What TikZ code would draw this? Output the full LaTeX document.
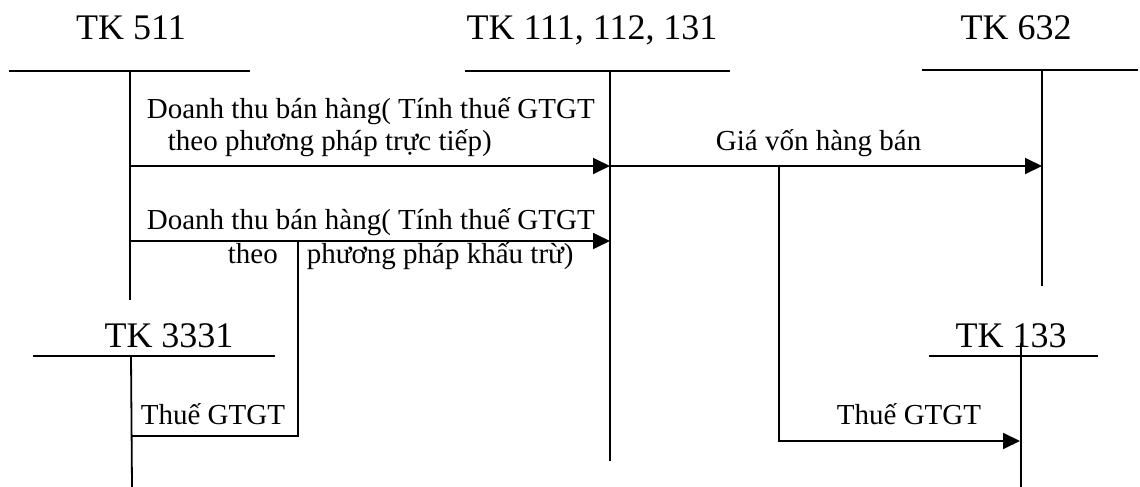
\documentclass[tikz,border=0pt]{standalone}
\usepackage{fontspec}
\setmainfont{Liberation Serif}
\usetikzlibrary{arrows.meta}
\begin{document}
\begin{tikzpicture}[x=1pt,y=-1pt, line width=1.8pt,
  title/.style={font=\fontsize{36}{40}\selectfont, anchor=base, inner sep=0pt},
  lbl/.style={font=\fontsize{29}{32}\selectfont, anchor=base west, inner sep=0pt},
  arr/.style={-{Triangle[length=17pt,width=16pt]}}]
\useasboundingbox (0,0) rectangle (1140,487);
% titles
\node[title] (t511) at (131,40) {TK 511};
\node[title] (t111) at (592,40) {TK 111, 112, 131};
\node[title] (t632) at (1016,40) {TK 632};
\node[title] (t3331) at (169,347) {TK 3331};
\node[title] (t133) at (1011,347) {TK 133};
% account coordinates
\coordinate (a511L) at (9,71);   \coordinate (a511R) at (250,71);
\coordinate (a511T) at (130,71); \coordinate (a511B) at (130,300);
\coordinate (a111L) at (465,71); \coordinate (a111R) at (730,71);
\coordinate (a111T) at (610,71); \coordinate (a111B) at (610,461);
\coordinate (a632L) at (922,70); \coordinate (a632R) at (1138,70);
\coordinate (a632T) at (1042,70); \coordinate (a632B) at (1042,286);
\coordinate (a3331L) at (33,356); \coordinate (a3331R) at (275,356);
\coordinate (a3331T) at (131,356); \coordinate (a3331B) at (132,487);
\coordinate (a133L) at (929,356); \coordinate (a133R) at (1098,356);
\coordinate (a133T) at (1021,343); \coordinate (a133B) at (1021,487);
% T accounts
\draw (a511L) -- (a511R); \draw (a511T) -- (a511B);
\draw (a111L) -- (a111R); \draw (a111T) -- (a111B);
\draw (a632L) -- (a632R); \draw (a632T) -- (a632B);
\draw (a3331L) -- (a3331R); \draw (a3331T) -- (a3331B);
\draw (a133L) -- (a133R); \draw (a133T) -- (a133B);
% flow points
\coordinate (f1s) at (130,166); \coordinate (f1e) at (610,166);
\coordinate (f2s) at (130,241); \coordinate (f2e) at (610,241);
\coordinate (f2j) at (298,241); \coordinate (f2k) at (298,436);
\coordinate (f3s) at (131,436);
\coordinate (f4e) at (1042,166);
\coordinate (f5s) at (779,166); \coordinate (f5k) at (779,441);
\coordinate (f5e) at (1020,441);
% flows
\draw[arr] (f1s) -- (f1e);
\draw[arr] (f2s) -- (f2e);
\draw (f3s) -- (f2k) -- (f2j);
\draw[arr] (f1e) -- (f4e);
\draw[arr] (f5s) -- (f5k) -- (f5e);
% labels
\node[lbl] (l1a) at (146,118) {Doanh thu bán hàng( Tính thuế GTGT};
\node[lbl] (l1b) at (167,150) {theo phương pháp trực tiếp)};
\node[lbl] (l2a) at (146,229) {Doanh thu bán hàng( Tính thuế GTGT};
\node[lbl] (l2b) at (227,263) {theo};
\node[lbl] (l2c) at (306,263) {phương pháp khấu trừ)};
\node[lbl] (l3) at (140,424) {Thuế GTGT};
\node[lbl] (l4) at (715,150) {Giá vốn hàng bán};
\node[lbl] (l5) at (836,424) {Thuế GTGT};
\end{tikzpicture}
\end{document}
